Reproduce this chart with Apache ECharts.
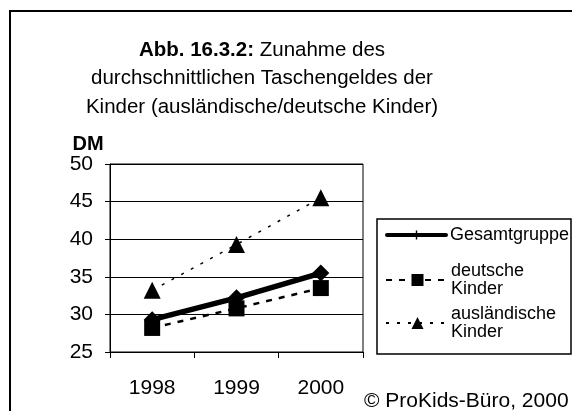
<!DOCTYPE html>
<html>
<head>
<meta charset="utf-8">
<script src="https://cdn.jsdelivr.net/npm/echarts@6/dist/echarts.min.js"></script>
<style>
  html, body { margin: 0; padding: 0; background: #fff; }
  #chart { width: 572px; height: 411px; }
</style>
</head>
<body>
<div id="chart"></div>
<script>
// Average pocket money (DM) by year
const years = ['1998', '1999', '2000'];
const gesamtgruppe = [29.3, 32.2, 35.5];
const deutscheKinder = [28.2, 30.8, 33.5];
const auslaendischeKinder = [33.2, 39.3, 45.5];
const yTicks = { min: 25, max: 50, step: 5 };

const FONT = '"Liberation Sans", Arial, sans-serif';
const chart = echarts.init(document.getElementById('chart'));

const legendText = {
  'Gesamtgruppe': 'Gesamtgruppe',
  'deutsche Kinder': 'deutsche\nKinder',
  'ausländische Kinder': 'ausländische\nKinder'
};

// thick bar with a small cross tick for the overall group
const totalIcon = 'path://M2,2.5H61A2,2 0 0 1 61,6.5H2A2,2 0 0 1 2,2.5Z M30.8,0H32.2V9H30.8Z';

function legendFor(name, top, twoLines, icon, itemHeight) {
  return {
    data: [icon ? { name: name, icon: icon, itemStyle: { color: '#000' } } : name],
    left: 385,
    top: top,
    padding: 0,
    itemWidth: 63,
    itemHeight: itemHeight || 15,
    selectedMode: false,
    formatter: n => legendText[n],
    textStyle: {
      fontFamily: FONT,
      fontSize: 18,
      color: '#000',
      lineHeight: 18,
      padding: twoLines ? [18, 0, 0, -3] : [0, 0, 0, -3]
    }
  };
}

chart.setOption({
  animation: false,
  backgroundColor: '#fff',
  title: {
    left: 257,
    top: 31,
    textAlign: 'center',
    text: '{b|Abb. 16.3.2:} Zunahme des\ndurchschnittlichen Taschengeldes der\nKinder (ausländische/deutsche Kinder)',
    textStyle: {
      fontFamily: FONT,
      fontSize: 20.5,
      fontWeight: 'normal',
      color: '#000',
      lineHeight: 28.5,
      rich: {
        b: { fontFamily: FONT, fontSize: 20.5, fontWeight: 'bold', color: '#000', lineHeight: 28.5 }
      }
    }
  },
  legend: [
    legendFor('Gesamtgruppe', 226, false, totalIcon, 9),
    legendFor('deutsche Kinder', 253, true),
    legendFor('ausländische Kinder', 296, true)
  ],
  grid: {
    left: 110,
    top: 164,
    right: 209,
    bottom: 59,
    show: true,
    borderColor: '#000',
    borderWidth: 1
  },
  xAxis: {
    type: 'category',
    data: years,
    boundaryGap: true,
    axisLine: { lineStyle: { color: '#000', width: 1 } },
    axisTick: { show: true, length: 6, lineStyle: { color: '#000' } },
    axisLabel: { fontFamily: FONT, fontSize: 21, color: '#000', margin: 26 }
  },
  yAxis: {
    type: 'value',
    min: yTicks.min,
    max: yTicks.max,
    interval: yTicks.step,
    axisLine: { show: true, lineStyle: { color: '#000', width: 1 } },
    axisTick: { show: true, length: 5, lineStyle: { color: '#000' } },
    axisLabel: { fontFamily: FONT, fontSize: 21, color: '#000', margin: 17 },
    splitLine: { show: true, lineStyle: { color: '#000', width: 1 } }
  },
  series: [
    {
      name: 'Gesamtgruppe',
      type: 'line',
      data: gesamtgruppe,
      symbol: 'diamond',
      symbolSize: 17,
      lineStyle: { color: '#000', width: 5.5 },
      itemStyle: { color: '#000' },
      z: 3
    },
    {
      name: 'deutsche Kinder',
      type: 'line',
      data: deutscheKinder,
      symbol: 'rect',
      symbolSize: 16,
      lineStyle: { color: '#000', width: 2.5, type: [6, 7] },
      itemStyle: { color: '#000' },
      z: 2
    },
    {
      name: 'ausländische Kinder',
      type: 'line',
      data: auslaendischeKinder,
      symbol: 'triangle',
      symbolSize: 17,
      lineStyle: { color: '#000', width: 1.5, type: [3, 8] },
      itemStyle: { color: '#000' },
      z: 2
    }
  ],
  graphic: [
    // outer frame (continues past the right and bottom edges)
    {
      type: 'rect',
      shape: { x: 10, y: 11, width: 700, height: 500 },
      style: { fill: 'none', stroke: '#000', lineWidth: 2 },
      silent: true
    },
    // legend box
    {
      type: 'rect',
      shape: { x: 377, y: 219, width: 194, height: 135 },
      style: { fill: 'none', stroke: '#000', lineWidth: 1.5 },
      silent: true
    },
    {
      type: 'text',
      x: 88,
      y: 144,
      style: {
        text: 'DM',
        font: 'bold 20px ' + FONT,
        fill: '#000',
        textAlign: 'center',
        textVerticalAlign: 'middle'
      }
    },
    {
      type: 'text',
      x: 364,
      y: 401,
      style: {
        text: '© ProKids-Büro, 2000',
        font: '21px ' + FONT,
        fill: '#000',
        textAlign: 'left',
        textVerticalAlign: 'middle'
      }
    }
  ]
});
</script>
</body>
</html>
